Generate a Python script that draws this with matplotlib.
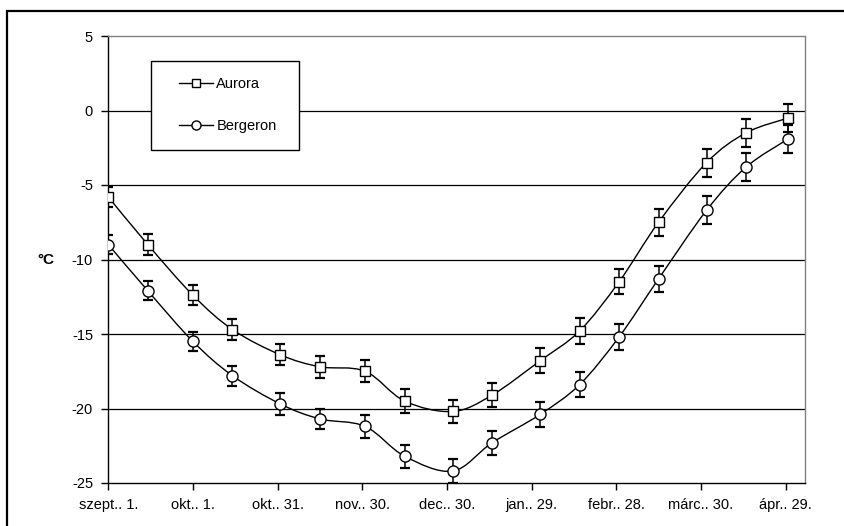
import numpy as np
import pandas as pd
import matplotlib
matplotlib.use("Agg")
import matplotlib.pyplot as plt
import matplotlib.dates as mdates
from matplotlib.path import Path
from matplotlib.patches import PathPatch, Rectangle
from matplotlib.lines import Line2D

plt.rcParams["font.family"] = ["Liberation Sans", "DejaVu Sans"]

# Measurement dates (1st and 15th of each month over the winter)
dates = [
    "2002-09-01", "2002-09-15", "2002-10-01", "2002-10-15", "2002-11-01",
    "2002-11-15", "2002-12-01", "2002-12-15", "2003-01-01", "2003-01-15",
    "2003-02-01", "2003-02-15", "2003-03-01", "2003-03-15", "2003-04-01",
    "2003-04-15", "2003-04-30",
]

series_names = ["Aurora", "Bergeron"]

aurora = [-5.8, -9.0, -12.4, -14.7, -16.4, -17.2, -17.5, -19.5, -20.2,
          -19.1, -16.8, -14.8, -11.5, -7.5, -3.5, -1.5, -0.5]
aurora_err = [0.65, 0.68, 0.67, 0.72, 0.70, 0.72, 0.75, 0.80, 0.80,
              0.83, 0.83, 0.86, 0.84, 0.90, 0.93, 0.92, 0.96]

bergeron = [-9.0, -12.1, -15.5, -17.8, -19.7, -20.7, -21.2, -23.2, -24.2,
            -22.3, -20.4, -18.4, -15.2, -11.3, -6.7, -3.8, -1.9]
bergeron_err = [0.66, 0.64, 0.66, 0.68, 0.72, 0.70, 0.76, 0.76, 0.78,
                0.80, 0.84, 0.85, 0.85, 0.87, 0.93, 0.92, 0.94]

tick_labels = ["szept.. 1.", "okt.. 1.", "okt.. 31.", "nov.. 30.", "dec.. 30.",
               "jan.. 29.", "febr.. 28.", "márc.. 30.", "ápr.. 29."]
y_ticks = [5, 0, -5, -10, -15, -20, -25]


def smooth_path(x, y):
    """Cubic Bezier path through the points (Catmull-Rom style tangents)."""
    pts = np.column_stack([x, y])
    n = len(pts)
    verts = [pts[0]]
    codes = [Path.MOVETO]
    for i in range(n - 1):
        p0 = pts[i - 1] if i > 0 else pts[i]
        p1 = pts[i]
        p2 = pts[i + 1]
        p3 = pts[i + 2] if i + 2 < n else pts[i + 1]
        c1 = p1 + (p2 - p0) / 6.0
        c2 = p2 - (p3 - p1) / 6.0
        verts += [c1, c2, p2]
        codes += [Path.CURVE4] * 3
    return Path(verts, codes)


fig = plt.figure(figsize=(8.45, 5.26), dpi=100)
W, H = 845, 526

# outer chart frame (only its left and top edges fall inside the image)
fig.add_artist(Rectangle((7.5 / W, -0.2), 1.3, 1.2 - 11 / H,
                         transform=fig.transFigure, fill=False,
                         edgecolor="black", linewidth=1.6, clip_on=False))

left, right, top, bottom = 108.3, 805.3, 36, 483
ax = fig.add_axes([left / W, 1 - bottom / H, (right - left) / W, (bottom - top) / H])

x = mdates.date2num(pd.to_datetime(dates))
start = mdates.date2num(pd.Timestamp("2002-09-01"))
ticks = start + np.arange(len(tick_labels)) * 30

for vals, errs, marker, msize in [(aurora, aurora_err, "s", 7.0),
                                  (bergeron, bergeron_err, "o", 8.0)]:
    ax.add_patch(PathPatch(smooth_path(x, np.array(vals)), fill=False,
                           edgecolor="black", linewidth=1.0, zorder=3))
    ax.errorbar(x, vals, yerr=errs, fmt="none", ecolor="black",
                elinewidth=1.1, capsize=3.3, capthick=1.6, zorder=4)
    ax.plot(x, vals, linestyle="none", marker=marker, markersize=msize,
            markerfacecolor="white", markeredgecolor="black",
            markeredgewidth=1.0, zorder=5)

ax.set_xlim(start, start + 247)
ax.set_ylim(-25, 5)
ax.set_yticks(y_ticks)
ax.set_yticklabels([str(v) for v in y_ticks])
ax.set_xticks(ticks)
ax.set_xticklabels(tick_labels)
ax.tick_params(axis="both", direction="out", length=5, width=1.0,
               labelsize=10.5, color="black", labelcolor="black")
ax.tick_params(axis="y", pad=6)
ax.tick_params(axis="x", pad=6)

for yv in y_ticks[1:-1]:
    ax.axhline(yv, color="black", linewidth=0.9, zorder=1)

ax.spines["left"].set_color("black")
ax.spines["bottom"].set_color("black")
ax.spines["left"].set_linewidth(1.0)
ax.spines["bottom"].set_linewidth(1.0)
ax.spines["top"].set_color("#808080")
ax.spines["right"].set_color("#808080")
ax.spines["top"].set_linewidth(1.0)
ax.spines["right"].set_linewidth(1.0)

# legend
handles = [
    Line2D([], [], color="black", linewidth=1.0, marker="s", markersize=6,
           markerfacecolor="white", markeredgecolor="black"),
    Line2D([], [], color="black", linewidth=1.0, marker="o", markersize=6.5,
           markerfacecolor="white", markeredgecolor="black"),
]
leg = fig.legend(handles, series_names, loc="center",
                 bbox_to_anchor=(228 / W, 1 - 105 / H), frameon=False,
                 fontsize=10.5, handlelength=2.3, handletextpad=0.25,
                 labelspacing=1.9, borderpad=0)
fig.add_artist(Rectangle((151 / W, 1 - 150 / H), 148 / W, 89 / H,
                         transform=fig.transFigure, facecolor="white",
                         edgecolor="black", linewidth=1.0, zorder=2))
leg.set_zorder(3)

fig.text(46 / W, 1 - 260 / H, "°C", ha="center", va="center",
         fontsize=11, fontweight="bold")

fig.savefig("out.png", dpi=100)
